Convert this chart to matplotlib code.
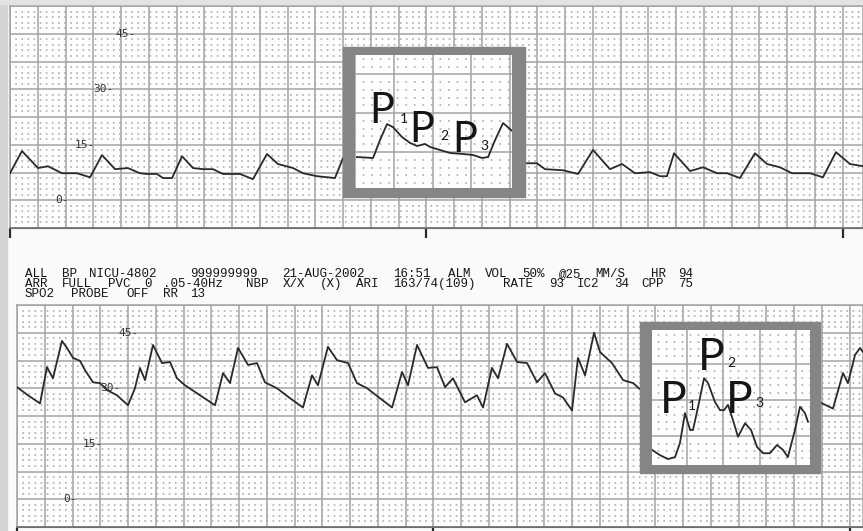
import re
import numpy as np
import matplotlib
matplotlib.use('Agg')
import matplotlib.pyplot as plt
from matplotlib.patches import Rectangle
from matplotlib.ticker import MultipleLocator

W, H, DPI = 863, 531, 100
PX_PER_S = 138.75          # 25 mm/s paper, one big square = 0.2 s
GRID = '#a3a3a3'
DOT = '#a8a8a8'
INK = '#2a2a2a'
BORDER = '#858585'

# ---- upper strip: time (s) / ICP (mmHg)
top_t = [0.000, 0.086, 0.202, 0.274, 0.375, 0.483, 0.577, 0.663, 0.757, 0.850,
         0.937, 0.987, 1.059, 1.103, 1.168, 1.240, 1.319, 1.391, 1.463, 1.535,
         1.658, 1.751, 1.852, 1.931, 2.040, 2.112, 2.213, 2.342, 2.400, 3.697,
         3.798, 3.856, 3.986, 4.094, 4.202, 4.324, 4.411, 4.505, 4.613, 4.685,
         4.735, 4.786, 4.901, 4.995, 5.096, 5.168, 5.261, 5.369, 5.456, 5.550,
         5.636, 5.766, 5.859, 5.953, 6.054, 6.148]
top_p = [7.3, 13.3, 8.7, 9.2, 7.3, 7.3, 6.2, 12.2, 8.4, 8.7,
         7.3, 7.1, 7.1, 6.0, 6.0, 11.9, 8.7, 8.4, 8.4, 7.1,
         7.1, 5.7, 12.5, 9.8, 8.7, 7.3, 6.5, 6.0, 11.4, 10.0,
         10.0, 8.4, 8.1, 7.1, 13.6, 8.4, 9.8, 7.3, 7.6, 6.5,
         6.5, 12.7, 7.9, 8.9, 7.3, 7.3, 6.0, 12.7, 9.8, 8.9,
         7.3, 7.3, 6.2, 13.0, 9.8, 9.2]

# magnified beat in the upper strip
top_zoom_t = [0.010, 0.093, 0.129, 0.165, 0.196, 0.242, 0.284, 0.320, 0.361, 0.387,
              0.438, 0.490, 0.557, 0.608, 0.655, 0.686, 0.722, 0.763, 0.809]
top_zoom_p = [6.53, 6.34, 9.82, 12.9, 12.3, 10.4, 9.24, 8.66, 9.05, 8.47,
              7.89, 7.31, 7.11, 6.92, 6.34, 6.53, 9.82, 13.1, 11.6]

# ---- lower strip
bot_t = [0.000, 0.079, 0.166, 0.216, 0.259, 0.324, 0.360, 0.404, 0.454, 0.490,
         0.548, 0.598, 0.649, 0.721, 0.800, 0.850, 0.886, 0.923, 0.980, 1.045,
         1.103, 1.153, 1.211, 1.319, 1.427, 1.485, 1.535, 1.593, 1.665, 1.730,
         1.787, 1.874, 1.968, 2.061, 2.126, 2.169, 2.241, 2.306, 2.386, 2.450,
         2.523, 2.616, 2.703, 2.775, 2.818, 2.883, 2.962, 3.027, 3.085, 3.142,
         3.229, 3.315, 3.359, 3.423, 3.467, 3.532, 3.604, 3.676, 3.748, 3.805,
         3.878, 3.935, 4.000, 4.043, 4.094, 4.159, 4.202, 4.288, 4.368, 4.440,
         4.497, 5.787, 5.881, 5.953, 5.989, 6.040, 6.076, 6.097]
bot_p = [30.3, 28.1, 25.9, 35.7, 32.7, 42.8, 40.9, 38.2, 37.4, 34.9,
         31.6, 31.4, 29.5, 28.1, 25.4, 30.0, 35.5, 32.2, 41.7, 36.8,
         37.1, 32.7, 30.8, 28.1, 25.4, 34.1, 31.4, 40.9, 36.3, 36.8,
         31.6, 30.0, 27.3, 24.8, 33.5, 30.8, 41.2, 37.6, 36.8, 31.4,
         30.0, 27.3, 24.8, 34.4, 30.8, 41.7, 35.5, 35.7, 30.3, 32.7,
         26.2, 28.1, 24.8, 35.5, 32.7, 42.0, 37.1, 36.8, 31.6, 34.1,
         28.6, 27.5, 24.0, 38.2, 33.5, 45.0, 39.8, 36.8, 32.2, 31.4,
         29.5, 26.2, 24.5, 34.1, 31.4, 39.0, 40.9, 39.8]

bot_zoom_t = [0.007, 0.051, 0.095, 0.134, 0.161, 0.189, 0.217, 0.233, 0.261, 0.294,
              0.316, 0.354, 0.382, 0.404, 0.426, 0.453, 0.481, 0.520, 0.553, 0.586,
              0.619, 0.657, 0.696, 0.729, 0.756, 0.795, 0.823, 0.850, 0.867]
bot_zoom_p = [19.7, 18.6, 17.8, 18.2, 21.1, 27.3, 23.8, 23.8, 28.6, 34.5,
              33.5, 29.6, 27.9, 27.9, 29.0, 25.9, 22.4, 25.2, 23.8, 20.3,
              19.0, 19.0, 20.7, 19.7, 18.2, 23.8, 28.6, 27.3, 25.5]

scale_values = [45, 30, 15, 0]
top_scale_x = [0.757, 0.598, 0.468, 0.324]
bot_scale_x = [0.728, 0.598, 0.476, 0.332]
time_marks = [0, 3, 6]

peak_names = ['1', '2', '3']
top_peak_xy = [(0.073, 13.1), (0.279, 9.43), (0.500, 7.5)]
top_sub_xy = [(0.232, 13.1), (0.439, 9.82), (0.645, 7.89)]
bot_peak_xy = [(0.050, 27.3), (0.260, 36.2), (0.414, 27.3)]
bot_sub_xy = [(0.206, 27.9), (0.421, 36.8), (0.575, 28.6)]

header = ["ALL BP NICU-4802  999999999 21-AUG-2002 16:51 ALM VOL 50% @25 MM/S  HR 94",
          "ARR FULL PVC 0 .05-40Hz NBP X/X (X) ARI 163/74(109) RATE 93 IC2 34 CPP 75",
          "SPO2 PROBE OFF RR 13"]


def px_box(x0, y0, x1, y1):
    return [x0 / W, 1 - y1 / H, (x1 - x0) / W, (y1 - y0) / H]


def chart_paper(ax, xlim, ylim, xstep=0.2, ystep=7.5):
    ax.set_xlim(*xlim)
    ax.set_ylim(*ylim)
    ax.set_facecolor('#fdfdfd')
    ax.xaxis.set_major_locator(MultipleLocator(xstep))
    ax.yaxis.set_major_locator(MultipleLocator(ystep))
    ax.xaxis.set_minor_locator(MultipleLocator(xstep / 5))
    ax.yaxis.set_minor_locator(MultipleLocator(ystep / 5))
    ax.tick_params(which='both', length=0, labelbottom=False, labelleft=False)
    ax.grid(which='major', color=GRID, lw=1.1)
    # dots on the small squares: dashed minor lines, one dot per small square
    wpt = ax.get_position().width * W * 72 / DPI
    small = xstep / 5
    step = small / (xlim[1] - xlim[0]) * wpt
    first = (np.ceil(xlim[0] / small - 1e-9) * small - xlim[0]) / (xlim[1] - xlim[0]) * wpt
    ax.grid(which='minor', axis='y', color=DOT, lw=1.1,
            linestyle=((0.55 - first) % step, (1.1, step - 1.1)))
    for s in ax.spines.values():
        s.set_color(GRID)
        s.set_linewidth(1.1)


fig = plt.figure(figsize=(W / DPI, H / DPI), dpi=DPI)
fig.patch.set_facecolor('#fafafa')
fig.add_artist(Rectangle((0, 0), 7 / W, 1, transform=fig.transFigure,
                         color='#d4d4d4', zorder=-5))
fig.add_artist(Rectangle((0, 1 - 4 / H), 1, 4 / H, transform=fig.transFigure,
                         color='#e3e3e3', zorder=-5))

panels = [
    (px_box(10, 6, 863, 228), 853 / PX_PER_S, top_t, top_p, top_scale_x),
    (px_box(17, 305, 863, 527), 846 / PX_PER_S, bot_t, bot_p, bot_scale_x),
]
for box, tmax, t, p, sx in panels:
    ax = fig.add_axes(box, zorder=0)
    chart_paper(ax, (0, tmax), (-7.5, 52.5))
    ax.spines['bottom'].set_color('#6e6e6e')
    ax.plot(t, p, color=INK, lw=1.3, zorder=3, solid_joinstyle='round')
    for v, x in zip(scale_values, sx):
        ax.text(x, v, f'{v}-', family='DejaVu Sans Mono', fontsize=8,
                color='#333333', ha='left', va='center', zorder=4)
    sec = ax.secondary_xaxis('bottom')
    sec.set_xticks(time_marks)
    sec.tick_params(length=7, width=1.6, color=INK, labelbottom=False)
    sec.spines['bottom'].set_color('#6e6e6e')

# magnified insets
insets = [
    ((343, 47, 525, 197), (355, 55, 512, 188), (0, 0.809), (0.54, 26.25),
     top_zoom_t, top_zoom_p, top_peak_xy, top_sub_xy, 30),
    ((640, 322, 820, 473), (652, 330, 810, 465), (0.007, 0.878), (16.57, 44.46),
     bot_zoom_t, bot_zoom_p, bot_peak_xy, bot_sub_xy, 32),
]
for outer, inner, xl, yl, t, p, pxy, sxy, fs in insets:
    x0, y0, x1, y1 = outer
    fig.add_artist(Rectangle((x0 / W, 1 - y1 / H), (x1 - x0) / W, (y1 - y0) / H,
                             transform=fig.transFigure, color=BORDER, zorder=1))
    axz = fig.add_axes(px_box(*inner), zorder=2)
    chart_paper(axz, xl, yl)
    for s in axz.spines.values():
        s.set_visible(False)
    axz.plot(t, p, color=INK, lw=1.3, zorder=3, solid_joinstyle='round')
    for name, (px, py), (qx, qy) in zip(peak_names, pxy, sxy):
        axz.text(px, py, 'P', family=['Lato', 'DejaVu Sans'], fontsize=fs,
                 color='#151515', ha='left', va='baseline', zorder=5)
        axz.text(qx, qy, name, family=['Lato', 'DejaVu Sans'], fontsize=10,
                 color='#151515', ha='left', va='baseline', zorder=5)

# monitor header, printed on a fixed character grid
char_w = 9.2
baselines = [277, 287, 297]
for line, yb in zip(header, baselines):
    for m in re.finditer(r'\S+', line):
        fig.text((25 + m.start() * char_w) / W, 1 - yb / H, m.group(),
                 family='Liberation Mono', fontsize=9, color='#151515',
                 ha='left', va='baseline')

fig.savefig('out.png', dpi=DPI, facecolor=fig.get_facecolor())
